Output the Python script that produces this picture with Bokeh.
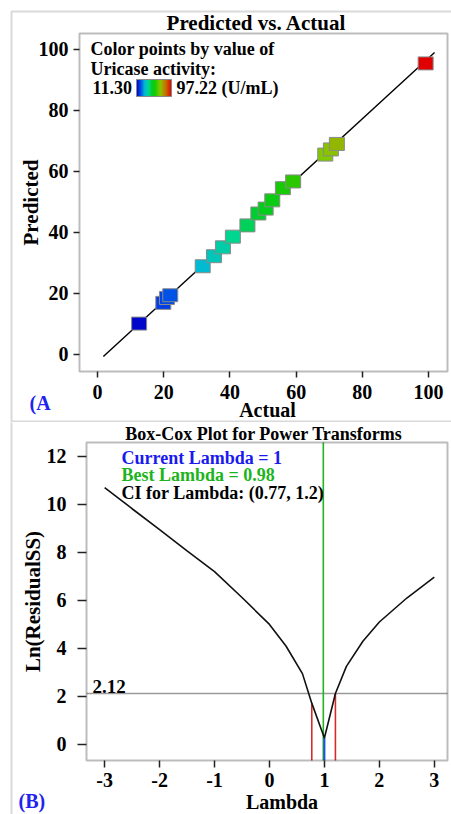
import math
import numpy as np
from bokeh.plotting import figure
from bokeh.models import (ColumnDataSource, LinearColorMapper, ColorBar, FixedTicker,
                          Label, BoxAnnotation, Range1d, LinearAxis)
from bokeh.layouts import column
from bokeh.embed import file_html
from bokeh.resources import INLINE

# ---------------- data: Predicted vs. Actual ----------------
actual = [12.6, 19.9, 21.0, 22.0, 31.8, 35.2, 37.9, 40.9, 45.3, 48.6, 50.8, 52.8,
          56.0, 59.1, 68.8, 70.5, 72.3, 99.1]
predicted = [10.1, 16.9, 18.5, 19.4, 28.9, 32.2, 35.1, 38.6, 42.3, 46.2, 47.8, 50.5,
             54.5, 56.7, 65.5, 67.2, 69.0, 95.4]
activity_min = 11.30
activity_max = 97.22
diag_x = [1.8, 101.8]
diag_y = [-0.7, 99.0]
pva_ticks = [0, 20, 40, 60, 80, 100]
pva_xlim = (-5.4, 105.7)
pva_ylim = (-5.6, 105.2)

# ---------------- data: Box-Cox ----------------
lambdas = [-3.0, -2.5, -2.0, -1.5, -1.0, -0.5, 0.0, 0.3, 0.6, 0.77, 1.0, 1.2, 1.4,
           1.7, 2.0, 2.5, 3.0]
ln_rss = [10.7, 9.82, 8.95, 8.06, 7.2, 6.12, 5.0, 4.1, 2.95, 1.72, 0.27, 2.12, 3.25,
          4.3, 5.1, 6.1, 6.97]
current_lambda = 1
best_lambda = 0.98
ci_low = 0.77
ci_high = 1.2
cutoff = 2.12
bc_xticks = [-3, -2, -1, 0, 1, 2, 3]
bc_yticks = [0, 2, 4, 6, 8, 10, 12]
bc_xlim = (-3.33, 3.24)
bc_ylim = (-0.67, 12.58)

FONT = "Liberation Serif"
W = 451

# colour palette (blue -> cyan -> green -> yellow-green -> red)
stops = [(0.00, (0, 0, 200)), (0.11, (0, 70, 230)), (0.23, (0, 185, 215)),
         (0.35, (0, 215, 140)), (0.45, (0, 205, 30)), (0.54, (30, 200, 0)),
         (0.68, (135, 200, 0)), (0.84, (200, 110, 0)), (1.00, (225, 0, 0))]
palette = []
for i in range(256):
    t = i / 255
    for (t0, c0), (t1, c1) in zip(stops[:-1], stops[1:]):
        if t0 <= t <= t1:
            f = (t - t0) / (t1 - t0) if t1 > t0 else 0
            c = [round(a + (b - a) * f) for a, b in zip(c0, c1)]
            palette.append("#%02x%02x%02x" % tuple(c))
            break
mapper = LinearColorMapper(palette=palette, low=activity_min, high=activity_max)


def outer_range(lim, px_lo, px_hi, total):
    lo, hi = lim
    s = (hi - lo) / (px_hi - px_lo)
    return Range1d(lo - px_lo * s, hi + (total - px_hi) * s)


def make_fig(height, xlim, ylim, left, right, top, bottom):
    """Frame = whole canvas; the visible plot box spans [left, right] x [top, bottom] px."""
    p = figure(width=W, height=height, output_backend="svg", toolbar_location=None,
               x_axis_location=None, y_axis_location=None,
               x_range=outer_range(xlim, left, right, W),
               y_range=outer_range(ylim, height - bottom, height - top, height),
               min_border=0, min_border_left=0, min_border_right=0,
               min_border_top=0, min_border_bottom=0)
    p.outline_line_color = None
    p.grid.visible = False
    return p


def add_axes(p, xlim, ylim, xticks, yticks, xt_out, xt_stand, yt_out, yt_stand):
    xa = LinearAxis(fixed_location=ylim[0], ticker=FixedTicker(ticks=xticks))
    ya = LinearAxis(fixed_location=xlim[0], ticker=FixedTicker(ticks=yticks))
    xa.major_label_overrides = {t: str(t) for t in xticks}
    ya.major_label_overrides = {t: str(t) for t in yticks}
    for ax, to, st in ((xa, xt_out, xt_stand), (ya, yt_out, yt_stand)):
        ax.major_label_text_font = FONT
        ax.major_label_text_font_style = "bold"
        ax.major_label_text_font_size = "20px"
        ax.major_label_text_color = "black"
        ax.minor_tick_line_color = None
        ax.major_tick_in = 0
        ax.major_tick_out = to
        ax.major_tick_line_color = "#222222"
        ax.major_tick_line_width = 1.5
        ax.axis_line_color = None
        ax.major_label_standoff = st
    p.add_layout(xa, "below")
    p.add_layout(ya, "left")
    p.add_layout(BoxAnnotation(left=xlim[0], right=xlim[1], bottom=ylim[0], top=ylim[1],
                               fill_color=None, line_color="#222222", line_width=2))


def lab(p, x, y, text, size="18px", color="black", align="left", angle=0,
        y_units="screen", baseline="middle", **kw):
    p.add_layout(Label(x=x, y=y, x_units="screen", y_units=y_units, text=text,
                       text_font=FONT, text_font_style="bold", text_font_size=size,
                       text_color=color, text_align=align, text_baseline=baseline,
                       angle=angle, **kw))


def outer_box(p, top, bottom):
    p.add_layout(BoxAnnotation(left=11, right=W + 20, top=top, bottom=bottom,
                               left_units="screen", right_units="screen",
                               top_units="screen", bottom_units="screen",
                               fill_color=None, line_color="#808080", line_width=2))


# ---------------- top figure ----------------
H1 = 422
L1, R1, T1, B1 = 79, 447, 33, 371
p1 = make_fig(H1, pva_xlim, pva_ylim, L1, R1, T1, B1)
outer_box(p1, H1 - 11, 1)
add_axes(p1, pva_xlim, pva_ylim, pva_ticks, pva_ticks, 6, 7, 6, 5)

p1.line(diag_x, diag_y, line_color="black", line_width=1.4)
src = ColumnDataSource(dict(actual=actual, predicted=predicted))
p1.rect(x="actual", y="predicted", width=15, height=13, width_units="screen",
        height_units="screen", source=src,
        fill_color={"field": "actual", "transform": mapper},
        line_color="#8a8a8a", line_width=1)

lab(p1, 256, H1 - 22, "Predicted vs. Actual", size="21px", align="center")
lab(p1, 90, H1 - 48, "Color points by value of")
lab(p1, 90, H1 - 68, "Uricase activity:")
lab(p1, 92, H1 - 87, f"{activity_min:.2f}")
lab(p1, 176, H1 - 87, f"{activity_max:.2f} (U/mL)")
cb = ColorBar(color_mapper=mapper, orientation="horizontal", width=35, height=17,
              location=(136, H1 - 96), padding=0, margin=0,
              ticker=FixedTicker(ticks=[]), major_tick_line_color=None,
              minor_tick_line_color=None, bar_line_color="#8a8a8a",
              background_fill_alpha=0, border_line_color=None)
p1.add_layout(cb)
lab(p1, 267, H1 - 409, "Actual", size="20px", align="center")
lab(p1, 30, H1 - (T1 + B1) / 2, "Predicted", size="21px", align="center", angle=math.pi / 2)
lab(p1, 29, H1 - 402, "(A", size="20px", color="#2222ee")

# ---------------- bottom figure ----------------
H2 = 392
L2, R2, T2, B2 = 86, 447, 20, 338
p2 = make_fig(H2, bc_xlim, bc_ylim, L2, R2, T2, B2)
outer_box(p2, H2 + 10, -10)
add_axes(p2, bc_xlim, bc_ylim, bc_xticks, bc_yticks, 7, 5, 9, 11)

ystart = bc_ylim[0]
p2.segment(x0=[bc_xlim[0]], y0=[cutoff], x1=[bc_xlim[1]], y1=[cutoff],
           line_color="#9a9a9a", line_width=1.6)
p2.segment(x0=[best_lambda], y0=[bc_ylim[0]], x1=[best_lambda], y1=[bc_ylim[1]],
           line_color="#22b422", line_width=1.6)
ci_top = list(np.interp([ci_low, ci_high], lambdas, ln_rss))
p2.segment(x0=[ci_low, ci_high], y0=[ystart, ystart], x1=[ci_low, ci_high], y1=ci_top,
           line_color="#d42a2a", line_width=1.6)
cur_top = float(np.interp(current_lambda, lambdas, ln_rss))
p2.segment(x0=[current_lambda], y0=[ystart], x1=[current_lambda], y1=[cur_top],
           line_color="#1f4fe6", line_width=2)
p2.line(lambdas, ln_rss, line_color="#111111", line_width=1.6)

off = 422  # page y of the bottom figure's top edge
lab(p2, 263.5, H2 - (433 - off), "Box-Cox Plot for Power Transforms", size="18px", align="center")
lab(p2, 121, H2 - (457 - off), f"Current Lambda = {current_lambda}", color="#1a1aee")
lab(p2, 121, H2 - (474 - off), f"Best Lambda = {best_lambda}", color="#1cb41c")
lab(p2, 121, H2 - (492 - off), f"CI for Lambda: ({ci_low}, {ci_high})")
lab(p2, 92, cutoff, f"{cutoff}", size="19px", y_units="data", baseline="bottom", y_offset=1)
lab(p2, 281.5, H2 - (801 - off), "Lambda", size="20px", align="center")
lab(p2, 32, H2 - (T2 + B2) / 2, "Ln(ResidualSS)", size="21px", align="center", angle=math.pi / 2)
lab(p2, 18, H2 - (800 - off), "(B)", size="20px", color="#2222ee")

layout = column(p1, p2, spacing=0)
open("out.html", "w").write(file_html(layout, INLINE))
